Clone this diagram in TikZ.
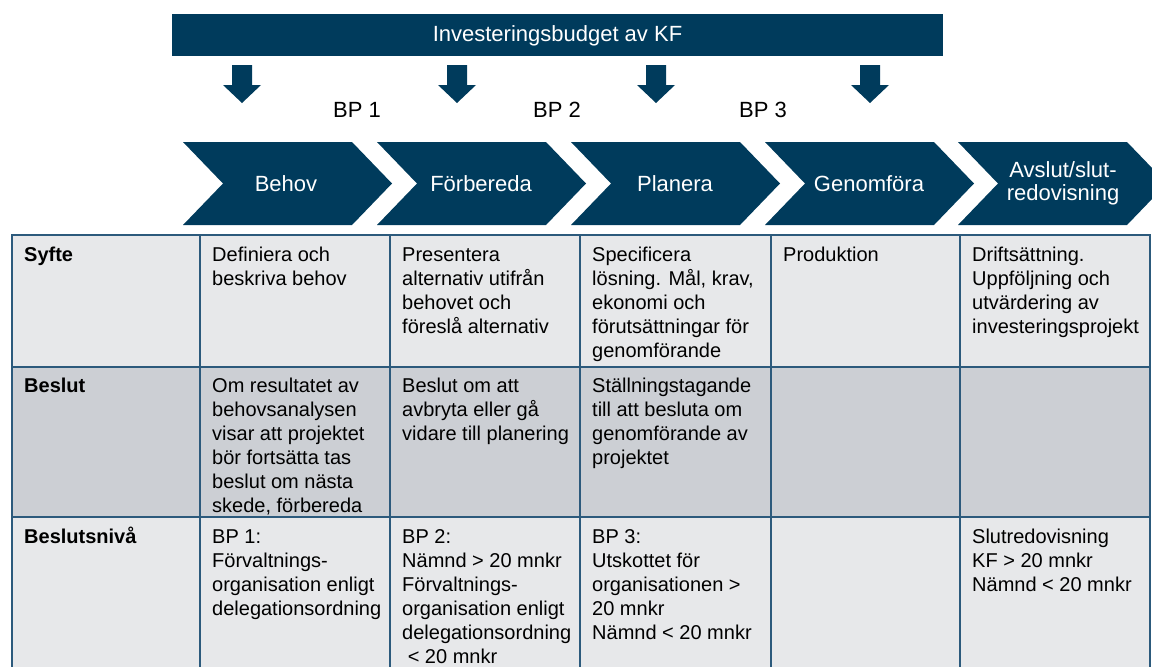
\documentclass[tikz,border=0pt]{standalone}
\usepackage{fontspec}
\setmainfont{Liberation Sans}
\definecolor{navy}{RGB}{0,59,92}
\definecolor{gridc}{RGB}{44,90,124}
\definecolor{rowA}{RGB}{231,232,234}
\definecolor{rowB}{RGB}{204,207,212}
\newcommand\cellbox[1]{\begin{tabular}[t]{@{}l@{}}#1\end{tabular}}
\tikzset{
  big/.style={font=\fontsize{22}{25}\selectfont},
  whitetxt/.style={big, text=white, inner sep=0, align=center},
  celltxt/.style={anchor=base west, inner sep=0, font=\fontsize{20}{24}\selectfont},
  headtxt/.style={celltxt, font=\fontsize{20}{24}\selectfont\bfseries},
  gridline/.style={draw=gridc, line width=1.5pt},
}
\begin{document}
\begin{tikzpicture}[x=1pt,y=-1pt]
\useasboundingbox (0,0) rectangle (1152,667);
\clip (0,0) rectangle (1152,667);
% banner
\fill[navy] (172,14) rectangle (943,56);
\node[whitetxt] (banner) at (557.5,36) {Investeringsbudget av KF};
% arrows
\foreach \c in {242,457,656,870}{
  \fill[navy] (\c-10,65) -- (\c+10,65) -- (\c+10,85) -- (\c+19,85) -- (\c,103)
    -- (\c-19,85) -- (\c-10,85) -- cycle;
}
% BP labels
\node[big, inner sep=0] (bp1) at (357,110) {BP 1};
\node[big, inner sep=0] (bp2) at (557,110) {BP 2};
\node[big, inner sep=0] (bp3) at (763,110) {BP 3};
% chevrons
\foreach \L in {183,377,571,765,958}{
  \fill[navy] (\L,142) -- (\L+169,142) -- (\L+209,183.5) -- (\L+169,225)
    -- (\L,225) -- (\L+40,183.5) -- cycle;
}
\node[whitetxt] (c1) at (286,183.5) {Behov};
\node[whitetxt] (c2) at (481,183.5) {Förbereda};
\node[whitetxt] (c3) at (675,183.5) {Planera};
\node[whitetxt] (c4) at (869,183.5) {Genomföra};
\node[whitetxt, font=\fontsize{22}{22.5}\selectfont] (c5) at (1063,183.5) {Avslut/slut-\\redovisning};
% table backgrounds
\fill[rowA] (12,235) rectangle (1150,367);
\fill[rowB] (12,367) rectangle (1150,517);
\fill[rowA] (12,517) rectangle (1150,667);
% grid
\draw[gridline] (12,667) -- (12,235) -- (1150,235) -- (1150,667);
\draw[gridline] (12,367) -- (1150,367);
\draw[gridline] (12,517) -- (1150,517);
\foreach \x in {200,390,580,771,960}{
  \draw[gridline] (\x,235) -- (\x,667);
}
% row 1
\node[headtxt] (h1) at (24,261) {Syfte};
\node[celltxt] (r1c1) at (212,261) {\cellbox{Definiera och\\beskriva behov}};
\node[celltxt] (r1c2) at (402,261) {\cellbox{Presentera\\alternativ utifrån\\behovet och\\föreslå alternativ}};
\node[celltxt] (r1c3) at (592,261) {\cellbox{Specificera\\lösning. Mål, krav,\\ekonomi och\\förutsättningar för\\genomförande}};
\node[celltxt] (r1c4) at (783,261) {\cellbox{Produktion}};
\node[celltxt] (r1c5) at (972,261) {\cellbox{Driftsättning.\\Uppföljning och\\utvärdering av\\investeringsprojekt}};
% row 2
\node[headtxt] (h2) at (24,392) {Beslut};
\node[celltxt] (r2c1) at (212,392) {\cellbox{Om resultatet av\\behovsanalysen\\visar att projektet\\bör fortsätta tas\\beslut om nästa\\skede, förbereda}};
\node[celltxt] (r2c2) at (402,392) {\cellbox{Beslut om att\\avbryta eller gå\\vidare till planering}};
\node[celltxt] (r2c3) at (592,392) {\cellbox{Ställningstagande\\till att besluta om\\genomförande av\\projektet}};
% row 3
\node[headtxt] (h3) at (24,543) {Beslutsnivå};
\node[celltxt] (r3c1) at (212,543) {\cellbox{BP 1:\\Förvaltnings-\\organisation enligt\\delegationsordning}};
\node[celltxt] (r3c2) at (402,543) {\cellbox{BP 2:\\Nämnd > 20 mnkr\\Förvaltnings-\\organisation enligt\\delegationsordning\\\ < 20 mnkr}};
\node[celltxt] (r3c3) at (592,543) {\cellbox{BP 3:\\Utskottet för\\organisationen >\\20 mnkr\\Nämnd < 20 mnkr}};
\node[celltxt] (r3c5) at (972,543) {\cellbox{Slutredovisning\\KF > 20 mnkr\\Nämnd < 20 mnkr}};
\end{tikzpicture}
\end{document}
